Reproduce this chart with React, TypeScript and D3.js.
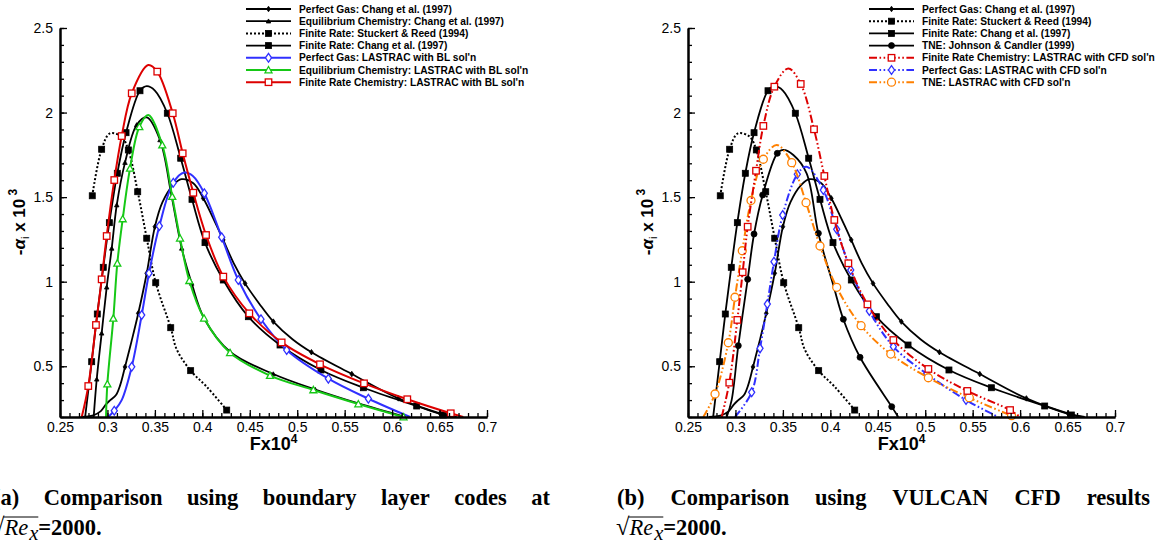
import React, { useEffect, useRef } from "react";
import * as d3 from "d3";

type Pt = [number, number, number?];

// ---------- data (x = F x 10^4, y = -alpha_i x 10^3, third value 1 = marker drawn) ----------
const PG_CHANG: Pt[] = [
  [0.272, 0.2], [0.285, 0.21], [0.293, 0.235], [0.2985, 0.275], [0.303, 0.3], [0.309, 0.33], [0.3135, 0.39],
  [0.3185, 0.496, 1], [0.3255, 0.65], [0.3325, 0.813, 1], [0.3414, 1.05, 1], [0.35, 1.325, 1], [0.358, 1.47],
  [0.3694, 1.572], [0.378, 1.606], [0.3905, 1.582], [0.401, 1.493, 1], [0.411, 1.38], [0.422, 1.247, 1],
  [0.433, 1.11], [0.445, 0.99, 1], [0.46, 0.87], [0.4748, 0.764, 1], [0.495, 0.66], [0.515, 0.583, 1],
  [0.5575, 0.454, 1], [0.6066, 0.31, 1], [0.6505, 0.222, 1], [0.668, 0.2],
];
const EQ_CHANG: Pt[] = [
  [0.2855, 0.2], [0.2887, 0.423, 1], [0.2939, 0.695, 1], [0.2992, 0.967, 1], [0.3045, 1.197, 1],
  [0.3098, 1.453, 1], [0.3185, 1.704, 1], [0.3308, 1.927, 1], [0.3414, 1.972], [0.3554, 1.838, 1],
  [0.3677, 1.503, 1], [0.3783, 1.197, 1], [0.3888, 0.99, 1], [0.4018, 0.784, 1], [0.4292, 0.586, 1],
  [0.4748, 0.454, 1], [0.519, 0.362, 1], [0.5644, 0.28, 1], [0.614, 0.2],
];
const FR_STUCKERT: Pt[] = [
  [0.284, 1.508, 1], [0.2939, 1.783, 1], [0.3027, 1.877], [0.315, 1.857], [0.322, 1.779, 1],
  [0.3319, 1.532, 1], [0.3414, 1.257, 1], [0.3509, 0.994, 1], [0.3667, 0.728, 1], [0.373, 0.6],
  [0.3877, 0.474, 1], [0.4046, 0.379], [0.4257, 0.241, 1],
];
const FR_CHANG: Pt[] = [
  [0.2765, 0.2], [0.2834, 0.527, 1], [0.2893, 0.809, 1], [0.2956, 1.085, 1], [0.302, 1.349, 1],
  [0.3104, 1.641, 1], [0.3196, 1.881, 1], [0.3343, 2.129, 1], [0.3414, 2.156], [0.35, 2.13],
  [0.3631, 1.996, 1], [0.3772, 1.73, 1], [0.3891, 1.487, 1], [0.4028, 1.231, 1], [0.4221, 1.01, 1],
  [0.4485, 0.793, 1], [0.4819, 0.6257, 1], [0.525, 0.478, 1], [0.5697, 0.373, 1], [0.6259, 0.265, 1],
  [0.654, 0.212, 1], [0.665, 0.2],
];
const PG_LASTRAC_BL: Pt[] = [
  [0.3009, 0.2], [0.3072, 0.237, 1], [0.315, 0.3], [0.3256, 0.497, 1], [0.3361, 0.803, 1],
  [0.3438, 1.05, 1], [0.3547, 1.329, 1], [0.3694, 1.585, 1], [0.381, 1.645], [0.39, 1.625],
  [0.4021, 1.523, 1], [0.4204, 1.263, 1], [0.4379, 1.01, 1], [0.4618, 0.778, 1], [0.4889, 0.596, 1],
  [0.5328, 0.4266, 1], [0.575, 0.308, 1], [0.619, 0.2],
];
const EQ_LASTRAC_BL: Pt[] = [
  [0.2985, 0.2], [0.2999, 0.395, 1], [0.3062, 0.783, 1], [0.3104, 1.109, 1], [0.3161, 1.371, 1],
  [0.3238, 1.67, 1], [0.3336, 1.916, 1], [0.343, 1.986], [0.3578, 1.808, 1], [0.3683, 1.503, 1],
  [0.3765, 1.257, 1], [0.3863, 1.006, 1], [0.4018, 0.784, 1], [0.4292, 0.58, 1], [0.4713, 0.445, 1],
  [0.517, 0.36, 1], [0.5644, 0.277, 1], [0.612, 0.2, 1],
];
const FR_LASTRAC_BL: Pt[] = [
  [0.2729, 0.2], [0.2798, 0.383, 1], [0.2879, 0.744, 1], [0.2939, 1.014, 1], [0.2992, 1.27, 1],
  [0.3072, 1.601, 1], [0.315, 1.861, 1], [0.3256, 2.114, 1], [0.343, 2.281], [0.3525, 2.242, 1],
  [0.3688, 1.996, 1], [0.3793, 1.759, 1], [0.3905, 1.526, 1], [0.4039, 1.276, 1], [0.4221, 1.03, 1],
  [0.4495, 0.813, 1], [0.4836, 0.641, 1], [0.524, 0.5116, 1], [0.5704, 0.399, 1], [0.616, 0.305, 1],
  [0.6618, 0.222, 1], [0.675, 0.2],
];
const TNE_JOHNSON: Pt[] = [
  [0.2908, 0.2], [0.296, 0.3], [0.303, 0.622, 1], [0.3129, 1.014, 1], [0.3196, 1.282, 1],
  [0.3287, 1.513, 1], [0.3441, 1.759, 1], [0.3505, 1.779], [0.361, 1.749], [0.375, 1.641],
  [0.3874, 1.286, 1], [0.4031, 0.98], [0.4137, 0.778, 1], [0.4313, 0.553, 1], [0.4647, 0.261, 1],
  [0.4716, 0.2],
];
const FR_LASTRAC_CFD: Pt[] = [
  [0.2855, 0.2], [0.2935, 0.403, 1], [0.302, 0.774, 1], [0.3076, 1.056, 1], [0.3129, 1.325, 1],
  [0.3217, 1.656, 1], [0.3294, 1.921, 1], [0.341, 2.153, 1], [0.3557, 2.261], [0.3688, 2.169, 1],
  [0.3828, 1.901, 1], [0.3937, 1.625, 1], [0.4042, 1.365, 1], [0.419, 1.109, 1], [0.4391, 0.866, 1],
  [0.4664, 0.655, 1], [0.5033, 0.484, 1], [0.5444, 0.354, 1], [0.5894, 0.241, 1], [0.6, 0.2],
];
const PG_LASTRAC_CFD: Pt[] = [
  [0.2995, 0.2], [0.3171, 0.346, 1], [0.3259, 0.606, 1], [0.3336, 0.868, 1], [0.3406, 1.118, 1],
  [0.3498, 1.394, 1], [0.3652, 1.635, 1], [0.375, 1.68], [0.3926, 1.542, 1], [0.4067, 1.31, 1],
  [0.4215, 1.069, 1], [0.4411, 0.827, 1], [0.4664, 0.616, 1], [0.5016, 0.455, 1], [0.543, 0.3005, 1],
  [0.577, 0.2],
];
const TNE_LASTRAC_CFD: Pt[] = [
  [0.2661, 0.2], [0.2785, 0.336, 1], [0.2925, 0.639, 1], [0.2995, 0.908, 1], [0.3072, 1.183, 1],
  [0.3164, 1.48, 1], [0.3294, 1.724, 1], [0.3435, 1.808], [0.3593, 1.704, 1], [0.3744, 1.467, 1],
  [0.3891, 1.211, 1], [0.4067, 0.967, 1], [0.4324, 0.74, 1], [0.4637, 0.572, 1], [0.5033, 0.432, 1],
  [0.5465, 0.314, 1], [0.591, 0.208, 1], [0.595, 0.2],
];

const X_DOMAIN = [0.25, 0.7];
const Y_DOMAIN = [0.2, 2.5];
const X_TICKS = [0.25, 0.3, 0.35, 0.4, 0.45, 0.5, 0.55, 0.6, 0.65, 0.7];
const X_TICK_LABELS = ["0.25", "0.3", "0.35", "0.4", "0.45", "0.5", "0.55", "0.6", "0.65", "0.7"];
const Y_TICKS = [0.5, 1, 1.5, 2, 2.5];
const Y_TICK_LABELS = ["0.5", "1", "1.5", "2", "2.5"];

const LEFT_NAMES = [
  "Perfect Gas: Chang et al. (1997)",
  "Equilibrium Chemistry: Chang et al. (1997)",
  "Finite Rate: Stuckert & Reed (1994)",
  "Finite Rate: Chang et al. (1997)",
  "Perfect Gas: LASTRAC with BL sol'n",
  "Equilibrium Chemistry: LASTRAC with BL sol'n",
  "Finite Rate Chemistry: LASTRAC with BL sol'n",
];
const RIGHT_NAMES = [
  "Perfect Gas: Chang et al. (1997)",
  "Finite Rate: Stuckert & Reed (1994)",
  "Finite Rate: Chang et al. (1997)",
  "TNE: Johnson & Candler (1999)",
  "Finite Rate Chemistry: LASTRAC with CFD sol'n",
  "Perfect Gas: LASTRAC with CFD sol'n",
  "TNE: LASTRAC with CFD sol'n",
];

const CAPTION_A1 = ["(a)", "Comparison", "using", "boundary", "layer", "codes", "at"];
const CAPTION_B1 = ["(b)", "Comparison", "using", "VULCAN", "CFD", "results"];

// ---------- styles ----------
type Style = { color: string; width: number; dash: string | null; marker: string; size: number; fill: string };
const BLACK = "#000000";
const BLUE = "#3030ff";
const GREEN = "#16c816";
const RED = "#dd0000";
const ORANGE = "#ff8000";
const DDOT = "8,2.5,1.6,2.5,1.6,2.5";

const S_PG_CHANG: Style = { color: BLACK, width: 1.8, dash: null, marker: "diamond", size: 5, fill: BLACK };
const S_EQ_CHANG: Style = { color: BLACK, width: 1.8, dash: null, marker: "triangle", size: 4.5, fill: BLACK };
const S_STUCKERT: Style = { color: BLACK, width: 2, dash: "2,2", marker: "square", size: 6, fill: BLACK };
const S_FR_CHANG: Style = { color: BLACK, width: 1.8, dash: null, marker: "square", size: 6, fill: BLACK };
const S_TNE_J: Style = { color: BLACK, width: 1.8, dash: null, marker: "circle", size: 6, fill: BLACK };
const S_PG_BL: Style = { color: BLUE, width: 2, dash: null, marker: "diamond", size: 8, fill: "#fff" };
const S_EQ_BL: Style = { color: GREEN, width: 2, dash: null, marker: "triangle", size: 7, fill: "#fff" };
const S_FR_BL: Style = { color: RED, width: 2, dash: null, marker: "square", size: 6.5, fill: "#fff" };
const S_FR_CFD: Style = { color: RED, width: 2, dash: DDOT, marker: "square", size: 6.5, fill: "#fff" };
const S_PG_CFD: Style = { color: BLUE, width: 2, dash: DDOT, marker: "diamond", size: 8, fill: "#fff" };
const S_TNE_CFD: Style = { color: ORANGE, width: 2, dash: DDOT, marker: "circle", size: 8, fill: "#fff" };

const LEFT_SERIES: [Pt[], Style][] = [
  [FR_STUCKERT, S_STUCKERT], [PG_CHANG, S_PG_CHANG], [EQ_CHANG, S_EQ_CHANG], [FR_CHANG, S_FR_CHANG],
  [PG_LASTRAC_BL, S_PG_BL], [EQ_LASTRAC_BL, S_EQ_BL], [FR_LASTRAC_BL, S_FR_BL],
];
const LEFT_LEGEND_STYLES = [S_PG_CHANG, S_EQ_CHANG, S_STUCKERT, S_FR_CHANG, S_PG_BL, S_EQ_BL, S_FR_BL];
const RIGHT_SERIES: [Pt[], Style][] = [
  [FR_STUCKERT, S_STUCKERT], [PG_CHANG, S_PG_CHANG], [FR_CHANG, S_FR_CHANG], [TNE_JOHNSON, S_TNE_J],
  [PG_LASTRAC_CFD, S_PG_CFD], [TNE_LASTRAC_CFD, S_TNE_CFD], [FR_LASTRAC_CFD, S_FR_CFD],
];
const RIGHT_LEGEND_STYLES = [S_PG_CHANG, S_STUCKERT, S_FR_CHANG, S_TNE_J, S_FR_CFD, S_PG_CFD, S_TNE_CFD];

const SANS = "'Liberation Sans', Arial, Helvetica, sans-serif";
const SERIF = "'Liberation Serif', 'Times New Roman', serif";

function drawMarker(g: any, type: string, cx: number, cy: number, s: number, st: Style) {
  const sw = st.fill === "#fff" ? 1.3 : 0.8;
  if (type === "square") {
    g.append("rect").attr("x", cx - s / 2).attr("y", cy - s / 2).attr("width", s).attr("height", s)
      .attr("fill", st.fill).attr("stroke", st.color).attr("stroke-width", sw);
  } else if (type === "circle") {
    g.append("circle").attr("cx", cx).attr("cy", cy).attr("r", s / 2)
      .attr("fill", st.fill).attr("stroke", st.color).attr("stroke-width", sw);
  } else if (type === "diamond") {
    const w = s * 0.38, h = s * 0.55;
    g.append("path").attr("d", `M${cx},${cy - h}L${cx + w},${cy}L${cx},${cy + h}L${cx - w},${cy}Z`)
      .attr("fill", st.fill).attr("stroke", st.color).attr("stroke-width", sw);
  } else if (type === "triangle") {
    const h = s * 0.5;
    g.append("path").attr("d", `M${cx},${cy - h}L${cx + h},${cy + h * 0.8}L${cx - h},${cy + h * 0.8}Z`)
      .attr("fill", st.fill).attr("stroke", st.color).attr("stroke-width", sw);
  }
}

const PANELS = [
  { left: 60, series: LEFT_SERIES, names: LEFT_NAMES, legendStyles: LEFT_LEGEND_STYLES, lx0: 246, lx1: 291, tx: 299 },
  { left: 688, series: RIGHT_SERIES, names: RIGHT_NAMES, legendStyles: RIGHT_LEGEND_STYLES, lx0: 869, lx1: 914, tx: 922 },
];

export default function App() {
  const ref = useRef<SVGSVGElement>(null);
  useEffect(() => {
    const svg = d3.select(ref.current);
    svg.selectAll("*").remove();
    const TOP = 28, BOTTOM = 417, W = 427;
    const y = d3.scaleLinear().domain(Y_DOMAIN).range([BOTTOM, TOP]);
    const defs = svg.append("defs");

    PANELS.forEach((p, pi) => {
      const x = d3.scaleLinear().domain(X_DOMAIN).range([p.left, p.left + W]);
      const clipId = "plotclip" + pi;
      defs.append("clipPath").attr("id", clipId).append("rect")
        .attr("x", p.left).attr("y", TOP - 10).attr("width", W + 10).attr("height", BOTTOM - TOP + 10);

      // series
      const line = d3.line<Pt>().x((d) => x(d[0])).y((d) => y(d[1])).curve(d3.curveCatmullRom.alpha(0.5));
      const sg = svg.append("g");
      p.series.forEach(([data, st]) => {
        sg.append("path").attr("d", line(data) as string).attr("fill", "none")
          .attr("stroke", st.color).attr("stroke-width", st.width)
          .attr("stroke-dasharray", st.dash ?? null).attr("clip-path", `url(#${clipId})`);
        const mg = sg.append("g");
        data.filter((d) => d[2] === 1).forEach((d) => drawMarker(mg, st.marker, x(d[0]), y(d[1]), st.size, st));
      });

      // axes
      const xAxis = d3.axisBottom(x).tickValues(X_TICKS).tickFormat((_d, i) => X_TICK_LABELS[i])
        .tickSizeInner(-7).tickSizeOuter(0).tickPadding(5);
      const xMinor = d3.axisBottom(x).tickValues(d3.range(0.25, 0.7001, 0.01)).tickFormat(() => "")
        .tickSizeInner(-4).tickSizeOuter(0);
      const yAxis = d3.axisLeft(y).tickValues(Y_TICKS).tickFormat((_d, i) => Y_TICK_LABELS[i])
        .tickSizeInner(-7).tickSizeOuter(0).tickPadding(7);
      const yMinor = d3.axisLeft(y).tickValues(d3.range(0.2, 2.5001, 0.1)).tickFormat(() => "")
        .tickSizeInner(-4).tickSizeOuter(0);
      const styleAxis = (ag: any) => {
        ag.select(".domain").attr("stroke", "#000").attr("stroke-width", 2);
        ag.selectAll(".tick line").attr("stroke", "#000").attr("stroke-width", 1.3);
        ag.selectAll(".tick text").attr("font-family", SANS).attr("font-size", 14).attr("fill", "#000");
        ag.attr("font-family", null).attr("font-size", null);
      };
      svg.append("g").attr("transform", `translate(0,${BOTTOM})`).call(xMinor as any).call(styleAxis);
      svg.append("g").attr("transform", `translate(0,${BOTTOM})`).call(xAxis as any).call(styleAxis);
      svg.append("g").attr("transform", `translate(${p.left},0)`).call(yMinor as any).call(styleAxis);
      svg.append("g").attr("transform", `translate(${p.left},0)`).call(yAxis as any).call(styleAxis);

      // axis titles
      const xt = svg.append("text").attr("x", p.left + W / 2).attr("y", 450).attr("text-anchor", "middle")
        .attr("font-family", SANS).attr("font-weight", "bold").attr("font-size", 18).attr("fill", "#000");
      xt.append("tspan").text("Fx10");
      xt.append("tspan").attr("dy", -7).attr("font-size", 12).text("4");

      const yt = svg.append("text").attr("transform", `translate(${p.left - 35},222) rotate(-90)`)
        .attr("text-anchor", "middle").attr("font-family", SANS).attr("font-weight", "bold")
        .attr("font-size", 17).attr("fill", "#000");
      yt.append("tspan").text("-");
      yt.append("tspan").attr("font-style", "italic").text("α");
      yt.append("tspan").attr("dy", 4).attr("font-size", 11).attr("font-weight", "normal").text("i");
      yt.append("tspan").attr("dy", -4).text(" x 10");
      yt.append("tspan").attr("dy", -8).attr("font-size", 12).text(" 3");

      // legend
      p.names.forEach((name, i) => {
        const st = p.legendStyles[i];
        const ly = 9 + i * 12.2;
        svg.append("line").attr("x1", p.lx0).attr("x2", p.lx1).attr("y1", ly).attr("y2", ly)
          .attr("stroke", st.color).attr("stroke-width", st.width).attr("stroke-dasharray", st.dash ?? null);
        drawMarker(svg, st.marker, (p.lx0 + p.lx1) / 2, ly, st.size, st);
        svg.append("text").attr("x", p.tx).attr("y", ly + 3.6).attr("font-family", SANS)
          .attr("font-weight", "bold").attr("font-size", 10.2).attr("fill", "#000").text(name);
      });
    });

    // captions
    const capFont = 22.5;
    const justify = (words: string[], x0: number, x1: number, yb: number) => {
      const nodes = words.map((w) => svg.append("text").attr("y", yb).attr("font-family", SERIF)
        .attr("font-weight", "bold").attr("font-size", capFont).attr("fill", "#000").text(w));
      const widths = nodes.map((n) => (n.node() as SVGTextElement).getComputedTextLength());
      const total = widths.reduce((a, b) => a + b, 0);
      const gap = (x1 - x0 - total) / (words.length - 1);
      let cx = x0;
      nodes.forEach((n, i) => { n.attr("x", cx); cx += widths[i] + gap; });
    };
    const sqrtLine = (x0: number, yb: number) => {
      const mk = (t: string, xx: number, yy: number, fs: number, italic: boolean, bold: boolean) => {
        const n = svg.append("text").attr("x", xx).attr("y", yy).attr("font-family", SERIF)
          .attr("font-size", fs).attr("font-style", italic ? "italic" : "normal")
          .attr("font-weight", bold ? "bold" : "normal").attr("fill", "#000").text(t);
        return (n.node() as SVGTextElement).getComputedTextLength();
      };
      let cx = x0;
      cx += mk("√", cx, yb, capFont + 2, false, false);
      const ox0 = cx;
      cx += mk("Re", cx, yb, capFont, true, false) + 1;
      cx += mk("x", cx, yb + 5, capFont - 2, true, false);
      const ox1 = cx;
      svg.append("line").attr("x1", ox0 - 1).attr("x2", ox1).attr("y1", yb - 18).attr("y2", yb - 18)
        .attr("stroke", "#000").attr("stroke-width", 1);
      mk("=2000.", cx, yb, capFont, false, true);
    };
    justify(CAPTION_A1, -7, 550, 505);
    sqrtLine(-9, 535);
    justify(CAPTION_B1, 617, 1150, 505);
    sqrtLine(616, 535);
  }, []);
  return (
    <svg ref={ref} width={1156} height={544}
      style={{ position: "absolute", left: 0, top: 0, background: "#fff" }} />
  );
}
